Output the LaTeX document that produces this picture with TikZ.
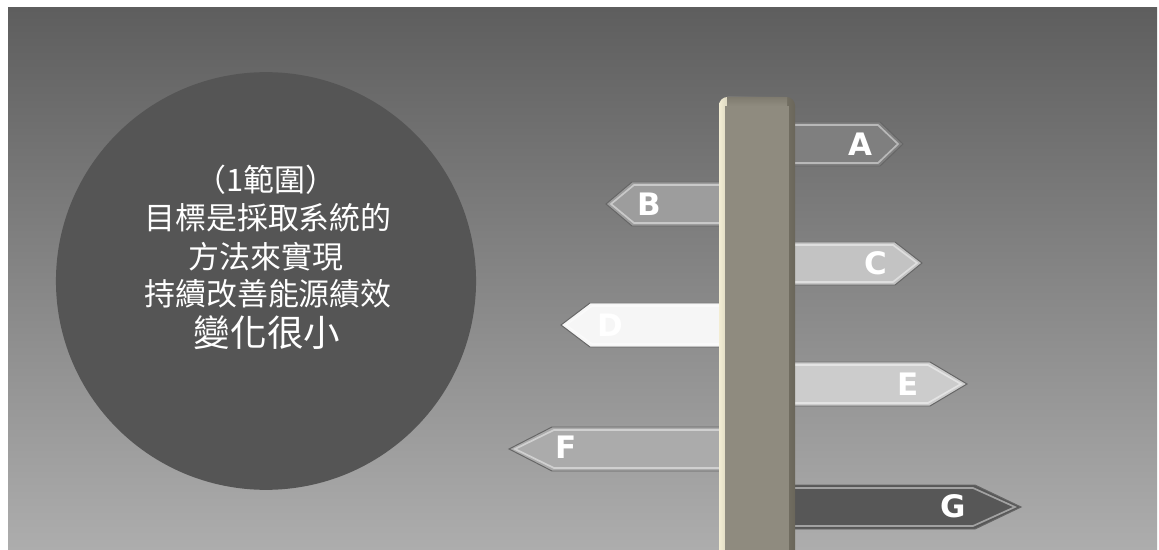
\documentclass[tikz,border=0pt]{standalone}
\usepackage{fontspec}
\newfontfamily\cjk{Noto Sans CJK TC}
\newfontfamily\signfont{DejaVu Sans}

\definecolor{bgtop}{HTML}{5E5E5E}
\definecolor{bgbot}{HTML}{ADADAD}
\definecolor{discgray}{HTML}{555555}
\definecolor{polebody}{HTML}{8F8B7F}
\definecolor{polelight}{HTML}{F3EDD3}
\definecolor{poledark}{HTML}{6A665A}
\definecolor{signA}{HTML}{7F7F7F}
\definecolor{signB}{HTML}{9D9D9D}
\definecolor{signC}{HTML}{C3C3C3}
\definecolor{signD}{HTML}{F6F6F6}
\definecolor{signE}{HTML}{CCCCCC}
\definecolor{signF}{HTML}{ABABAB}
\definecolor{signG}{HTML}{575757}

\begin{document}
\begin{tikzpicture}[x=0.025cm,y=-0.025cm,
  sign/.style={draw=black!60,line width=0.7pt,line join=miter},
  bevel/.style={draw=white,opacity=0.45,line width=1.2pt},
  letter/.style={text=white,font=\signfont\bfseries\fontsize{22}{22}\selectfont,inner sep=0pt},
  cjkline/.style={text=white,font=\cjk\fontsize{22}{26}\selectfont,inner sep=0pt}]

\useasboundingbox (0,0) rectangle (1159,550);
\fill[white] (0,0) rectangle (1159,550);
\shade[top color=bgtop,bottom color=bgbot] (8,8) rectangle (1157,550);

% disc with text
\fill[discgray] (266,281) ellipse [x radius=5.25cm, y radius=5.22cm];
\node[cjkline] (scope) at (266,180) {（1範圍）};
\node[cjkline] (goal) at (268,218) {目標是採取系統的};
\node[cjkline] (method) at (266,257) {方法來實現};
\node[cjkline] (improve) at (268,294) {持續改善能源績效};
\node[cjkline,font=\cjk\fontsize{26}{30}\selectfont] (change) at (267,333) {變化很小};

% signs
\draw[sign,fill=signA] (757,122) -- (880,122) -- (903,144) -- (880,166) -- (757,166) -- cycle;
\draw[bevel] (757,125) -- (878,125) -- (898,144) -- (878,163) -- (757,163);
\node[letter] (labA) at (860,144) {A};

\draw[sign,fill=signB] (757,182) -- (632,182) -- (606,204) -- (632,226) -- (757,226) -- cycle;
\draw[bevel] (757,185) -- (634,185) -- (611,204) -- (634,223) -- (757,223);
\node[letter] (labB) at (649,204) {B};

\draw[sign,fill=signC] (757,242) -- (895,242) -- (922,263) -- (895,285) -- (757,285) -- cycle;
\draw[bevel] (757,245) -- (893,245) -- (917,263) -- (893,282) -- (757,282);
\node[letter] (labC) at (876,263) {C};

\draw[sign,fill=signD] (757,303) -- (590,303) -- (561,325) -- (590,347) -- (757,347) -- cycle;
\draw[bevel] (757,306) -- (592,306) -- (566,325) -- (592,344) -- (757,344);
\node[letter] (labD) at (610,325) {D};

\draw[sign,fill=signE] (757,362) -- (930,362) -- (967,384) -- (930,406) -- (757,406) -- cycle;
\draw[bevel] (757,365) -- (928,365) -- (961,384) -- (928,403) -- (757,403);
\node[letter] (labE) at (908,384) {E};

\draw[sign,fill=signF] (757,427) -- (552,427) -- (509,449) -- (552,471) -- (757,471) -- cycle;
\draw[bevel] (757,430) -- (554,430) -- (515,449) -- (554,468) -- (757,468);
\node[letter] (labF) at (566,447) {F};

\draw[sign,fill=signG] (757,485) -- (975,485) -- (1021,507) -- (975,529) -- (757,529) -- cycle;
\draw[bevel] (757,488) -- (973,488) -- (1015,507) -- (973,526) -- (757,526);
\node[letter] (labG) at (953,506) {G};

% pole
\shade[left color=polelight,right color=poledark,middle color=polebody,rounded corners=6pt]
  (719,570) -- (719,97) -- (795,97) -- (795,570) -- cycle;
\fill[polebody] (725,106) rectangle (789,570);
\shade[top color=polebody!60!poledark,bottom color=polebody] (727,97.5) rectangle (787,106);
\end{tikzpicture}
\end{document}
